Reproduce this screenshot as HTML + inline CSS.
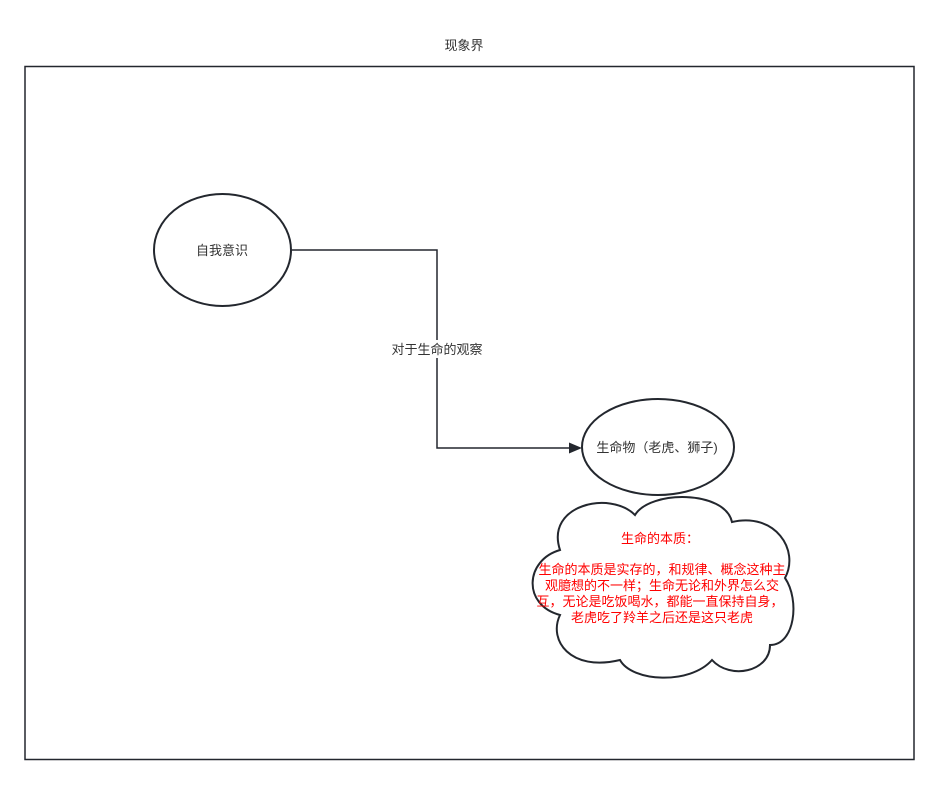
<!DOCTYPE html>
<html><head><meta charset="utf-8"><style>
body{margin:0;background:#fff;}
svg text{font-family:"Liberation Sans","Noto Sans CJK SC",sans-serif;font-size:13px;}
</style></head><body>
<svg width="939" height="785" viewBox="0 0 939 785" xmlns="http://www.w3.org/2000/svg">
<rect width="939" height="785" fill="#fff"/>
<text x="464" y="50" text-anchor="middle" fill="#333">现象界</text>
<rect x="25" y="66.5" width="889" height="693" fill="none" stroke="#23272e" stroke-width="1.5"/>
<ellipse cx="222.5" cy="250" rx="68.5" ry="56" fill="#fff" stroke="#23272e" stroke-width="2"/>
<text x="222" y="255" text-anchor="middle" fill="#333">自我意识</text>
<polyline points="292,250 437,250 437,448 570,448" fill="none" stroke="#23272e" stroke-width="1.5"/>
<polygon points="582,448 569,442.5 569,453.5" fill="#23272e"/>
<rect x="388" y="340" width="98" height="18" fill="#fff"/>
<text x="437" y="354" text-anchor="middle" fill="#333">对于生命的观察</text>
<ellipse cx="658" cy="447" rx="76" ry="48" fill="#fff" stroke="#23272e" stroke-width="2"/>
<text x="657" y="452" text-anchor="middle" fill="#333">生命物（老虎、狮子)</text>
<path d="M 560 550 C 545 505, 610 490, 635 515 C 650 490, 725 490, 732 522 C 775 512, 800 550, 785 578 C 800 600, 795 645, 770 645 C 770 672, 730 680, 712 660 C 690 685, 632 682, 620 660 C 570 672, 548 640, 560 615 C 522 605, 525 560, 560 550 Z" fill="#fff" stroke="#23272e" stroke-width="2"/>
<g fill="#ff0000" text-anchor="middle">
<text x="660" y="543">生命的本质：</text>
<text x="662" y="574">生命的本质是实存的，和规律、概念这种主</text>
<text x="662" y="590">观臆想的不一样；生命无论和外界怎么交</text>
<text x="660" y="606">互，无论是吃饭喝水，都能一直保持自身，</text>
<text x="662" y="622">老虎吃了羚羊之后还是这只老虎</text>
</g>
</svg>
</body></html>
